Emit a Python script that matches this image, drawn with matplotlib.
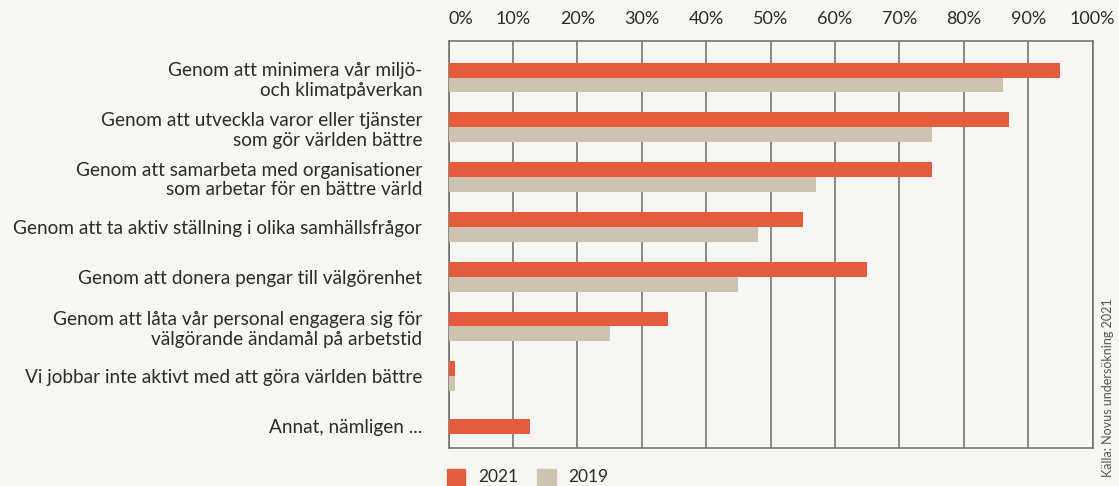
import numpy as np
import matplotlib.pyplot as plt
from matplotlib.patches import Patch

# Survey answers (top to bottom)
categories = [
    "Genom att minimera vår miljö-\noch klimatpåverkan",
    "Genom att utveckla varor eller tjänster\nsom gör världen bättre",
    "Genom att samarbeta med organisationer\nsom arbetar för en bättre värld",
    "Genom att ta aktiv ställning i olika samhällsfrågor",
    "Genom att donera pengar till välgörenhet",
    "Genom att låta vår personal engagera sig för\nvälgörande ändamål på arbetstid",
    "Vi jobbar inte aktivt med att göra världen bättre",
    "Annat, nämligen ...",
]
values_2021 = [95, 87, 75, 55, 65, 34, 1, 12.6]
values_2019 = [86, 75, 57, 48, 45, 25, 1, None]  # no 2019 answer for "Annat"
tick_values = list(range(0, 101, 10))
tick_labels = [f"{t}%" for t in tick_values]

BG = '#f7f6f2'
RED = '#e55c3c'
BEIGE = '#cec3b1'
TEXT = '#2b2b2b'
GRID = '#6b6b6b'

plt.rcParams['font.family'] = ['Lato', 'DejaVu Sans']

fig = plt.figure(figsize=(11.19, 4.86), dpi=100, facecolor=BG)
ax = fig.add_axes([0.4009, 0.0782, 0.5756, 0.8381])
ax.set_facecolor(BG)

h = 0.30
y = np.arange(len(categories))
for i, (v21, v19) in enumerate(zip(values_2021, values_2019)):
    if v19 is None:
        ax.barh(y[i], v21, height=h, color=RED, zorder=3)
    else:
        ax.barh(y[i] - h / 2, v21, height=h, color=RED, zorder=3)
        ax.barh(y[i] + h / 2, v19, height=h, color=BEIGE, zorder=3)

ax.set_xlim(0, 100)
ax.set_ylim(len(categories) - 1 + 0.44, -0.74)

ax.set_xticks(tick_values)
ax.set_xticklabels(tick_labels)
ax.xaxis.tick_top()
ax.tick_params(axis='x', length=0, pad=10, labelsize=13, labelcolor=TEXT)
ax.xaxis.get_ticklabels()[0].set_ha('left')

ax.set_yticks(y)
ax.set_yticklabels(categories, ha='right', linespacing=1.2)
ax.tick_params(axis='y', length=0, pad=19, labelsize=13.7, labelcolor=TEXT)

ax.grid(axis='x', color=GRID, linewidth=1.1, zorder=1)
for s in ax.spines.values():
    s.set_color(GRID)
    s.set_linewidth(1.1)

handles = [Patch(color=RED, label='2021'), Patch(color=BEIGE, label='2019')]
fig.legend(handles=handles, loc='upper left', bbox_to_anchor=(0.3995, 0.036),
           ncol=2, frameon=False, fontsize=12.5, handlelength=1.05, handleheight=1.05,
           handletextpad=0.75, columnspacing=1.1, borderpad=0, borderaxespad=0,
           labelcolor=TEXT)

fig.text(0.990, 0.018, 'Källa: Novus undersökning 2021', rotation=90,
         ha='center', va='bottom', fontsize=9, color='#555555')

fig.savefig('out.png', dpi=100, facecolor=BG)
